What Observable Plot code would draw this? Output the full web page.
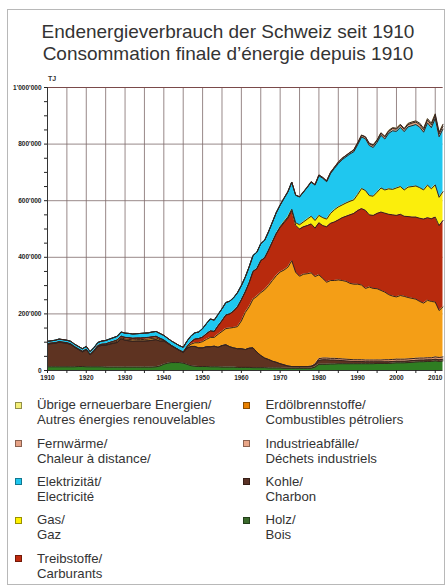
<!DOCTYPE html>
<html><head><meta charset="utf-8">
<script src="https://cdn.jsdelivr.net/npm/d3@7"></script>
<script src="https://cdn.jsdelivr.net/npm/@observablehq/plot@0.6"></script>
<style>
body{margin:0;background:#fff;font-family:"Liberation Sans",Arial,Helvetica,sans-serif;color:#333;}
#page{position:relative;width:446px;height:588px;overflow:hidden;}
#frame{position:absolute;left:7px;top:9px;width:438px;height:576px;border:1.5px solid #b8b8b8;box-sizing:border-box;}
.title{position:absolute;left:0;width:456px;text-align:center;font-size:19px;line-height:19px;color:#333;white-space:nowrap;}
#chart{position:absolute;left:0;top:0;}
.unit{position:absolute;left:48px;top:75px;font-size:7px;font-weight:bold;color:#333;}
.leg{position:absolute;font-size:13.2px;line-height:15px;color:#333;white-space:nowrap;}
.sw{position:absolute;width:7px;height:7px;box-sizing:border-box;border:0.6px solid rgba(0,0,0,.4);}
</style>
</head><body>
<div id="page">
  <div id="frame"></div>
  <div class="title" style="top:22.2px">Endenergieverbrauch der Schweiz seit 1910</div>
  <div class="title" style="top:44.2px">Consommation finale d’énergie depuis 1910</div>
  <div id="chart"></div>
  <div class="unit">TJ</div>
  <div id="legend"></div>
</div>
<script>
// Values in thousand TJ, one per year 1910–2012
const years = d3.range(1910, 2013);

const holz = [
 13,13,13,13,13,13,13,13,14,14,
 13,13,13,13,13,12,12,12,12,12,
 12,12,12,12,12,12,12,12,13,16,
 22,26,28,28,28,26,22,17,15,14,
 14,14,13,13,13,12,12,12,12,11,
 11,11,11,10,10,10,10,9,9,9,
 9,8,8,8,8,8,8,8,8,12,
 22,22,22,23,23,24,24,24,24,24,
 24,24,24,24,24,25,25,25,25,26,
 27,27,27,28,29,30,31,31,32,32,
 34,32,34];

const kohle = [
 80,82,83,87,85,83,79,69,60,52,
 60,42,55,72,76,77,81,84,87,100,
 95,93,91,92,92,92,93,95,96,88,
 82,70,59,51,43,38,57,68,70,66,
 66,70,71,73,69,76,79,72,68,66,
 66,63,68,70,55,43,34,30,24,20,
 15,12,8,6,6,6,6,6,7,8,
 14,16,16,14,14,12,11,10,9,8,
 8,8,7,7,7,6,6,6,6,6,
 6,6,6,6,6,6,6,6,6,6,
 6,6,6];

const industrieabfaelle = [
 0,0,0,0,0,0,0,0,0,0,
 0,0,0,0,0,0,0,0,0,0,
 0,0,0,0,0,0,0,0,0,0,
 0,0,0,0,0,0,0,0,0,0,
 0,0,0,0,0,0,0,0,0,0,
 0,0,0,0,0,0,0,0,0,0,
 0,0,0,0,0,0,0,0,0,3,
 6,6,6,6,6,6,6,6,6,6,
 6,6,6,6,6,6,6,7,7,7,
 7,7,7,7,7,7,7,7,7,7,
 8,8,8];

const erdoelbrennstoffe = [
 1,1,1,1,1,1,1,1,1,1,
 1,1,1,1,2,2,2,3,4,4,
 4,5,5,5,5,6,6,6,6,5,
 2,1,0.5,0.5,0.5,0.5,3,8,13,18,
 22,26,33,31,46,50,57,66,72,78,
 98,131,146,172,197,222,241,261,285,306,
 324,335,349,374,333,319,326,328,330,309,
 296,281,268,275,275,278,277,275,269,267,
 267,264,253,258,253,252,246,239,230,224,
 220,225,222,217,213,209,200,194,203,199,
 194,166,177];

const treibstoffe = [
 1,1,1,1,1,1,1,1,1,1,
 1,1,2,2,2,3,4,4,5,5,
 6,6,6,6,6,6,6,6,6,5,
 2,1,0.5,0.5,0.5,0.5,3,8,13,15,
 16,20,23,21,30,38,48,50,58,70,
 75,73,85,98,98,113,113,125,137,149,
 157,167,173,177,166,167,168,170,173,171,
 184,187,196,202,207,212,222,230,242,250,
 260,270,276,255,258,266,277,279,284,287,
 288,287,283,286,287,290,294,297,292,292,
 300,300,305];

const gas = [
 0,0,0,0,0,0,0,0,0,0,
 0,0,0,0,0,0,0,0,0,0,
 0,0,0,0,0,0,0,0,0,0,
 0,0,0,0,0,0,0,0,0,0,
 0,0,0,0,0,0,0,0,0,0,
 0,0,0,0,0,0,0,0,0,0,
 3,4,5,5,9,15,17,23,27,27,
 26,28,27,35,43,46,45,47,48,48,
 57,71,70,68,68,75,85,82,90,90,
 97,98,93,104,108,110,108,103,115,106,
 114,100,102];

const elektrizitaet = [
 8,8,9,9,9,9,9,9,9,9,
 10,10,10,11,11,12,12,13,13,15,
 15,15,15,15,16,16,16,17,17,17,
 16,16,16,16,16,17,19,21,22,23,
 30,36,42,40,40,42,44,45,47,50,
 50,52,56,56,58,60,62,65,69,74,
 76,82,88,95,97,98,105,112,120,125,
 140,139,132,141,146,153,160,163,167,170,
 176,182,183,177,172,176,186,180,196,207,
 200,209,206,213,215,217,214,204,220,216,
 235,214,221];

const fernwaerme = [
 0,0,0,0,0,0,0,0,0,0,
 0,0,0,0,0,0,0,0,0,0,
 0,0,0,0,0,0,0,0,0,0,
 0,0,0,0,0,0,0,0,0,0,
 0,0,0,0,0,0,0,0,0,0,
 0,0,0,0,0,0,0,0,0,0,
 1,1,1,1,1,1,1,1,2,2,
 3,3,3,4,4,5,5,5,5,6,
 6,6,6,6,7,7,7,7,7,8,
 8,8,8,8,9,9,9,9,10,10,
 10,10,10];

const uebrigeErneuerbare = [
 0,0,0,0,0,0,0,0,0,0,
 0,0,0,0,0,0,0,0,0,0,
 0,0,0,0,0,0,0,0,0,0,
 0,0,0,0,0,0,0,0,0,0,
 0,0,0,0,0,0,0,0,0,0,
 0,0,0,0,0,0,0,0,0,0,
 0,0,0,0,0,0,0,0,0,0,
 0,0,0,0,0,0,0,0,0,1,
 1,1,1,2,2,2,2,3,3,3,
 3,3,3,4,4,4,5,5,5,6,
 6,6,7];

// stacking order bottom -> top
const seriesNames = ["Holz","Kohle","Industrieabfälle","Erdölbrennstoffe","Treibstoffe","Gas","Elektrizität","Fernwärme","Übrige erneuerbare Energien"];
const seriesValues = [holz,kohle,industrieabfaelle,erdoelbrennstoffe,treibstoffe,gas,elektrizitaet,fernwaerme,uebrigeErneuerbare];
const areaColors = ["#2f7d22","#5e3321","#e39a70","#f49e16","#b82a0d","#fbee0c","#1fc7ef","#e0a27e","#efe49a"];

const yTicks = d3.range(0, 1000001, 50000);
const yLabelled = [0,200000,400000,600000,800000,1000000];
const xTicks = d3.range(1910, 2013, 5);
const xGrid = d3.range(1915, 2011, 5);

// legend entries (left column, right column)
const legendLeft = [
  ["Übrige erneuerbare Energien/","Autres énergies renouvelables","#f4ef78"],
  ["Fernwärme/","Chaleur à distance/","#e6a286"],
  ["Elektrizität/","Electricité","#1ec6ee"],
  ["Gas/","Gaz","#fff200"],
  ["Treibstoffe/","Carburants","#c02a0e"]
];
const legendRight = [
  ["Erdölbrennstoffe/","Combustibles pétroliers","#e88000"],
  ["Industrieabfälle/","Déchets industriels","#e9a688"],
  ["Kohle/","Charbon","#5a3226"],
  ["Holz/","Bois","#3b6a2c"]
];

const table = [];
years.forEach((yr, i) => seriesNames.forEach((n, j) => table.push({year: yr, series: n, value: seriesValues[j][i] * 1000})));

const fmt = v => d3.format(",")(v).replace(/,/g, "'");

const chart = Plot.plot({
  width: 446, height: 392,
  marginTop: 87, marginBottom: 22, marginLeft: 47, marginRight: 3.5,
  style: {background: "transparent", overflow: "visible", fontFamily: "Liberation Sans, Arial, sans-serif", color: "#222"},
  x: {domain: [1910, 2012]},
  y: {domain: [0, 1000000]},
  color: {domain: seriesNames, range: areaColors},
  marks: [
    Plot.ruleX(xGrid, {stroke: "#7e6a6a", strokeWidth: 0.8}),
    Plot.ruleY(yLabelled.slice(1), {stroke: "#7e6a6a", strokeWidth: 0.8}),
    Plot.areaY(table, Plot.stackY({x: "year", y: "value", z: "series", fill: "series", order: seriesNames})),
    Plot.lineY(table, Plot.stackY2({x: "year", y: "value", z: "series", order: seriesNames, stroke: "#35231d", strokeWidth: 1})),
    Plot.ruleY([1000000], {stroke: "#7a4a4a", strokeWidth: 1}),
    Plot.ruleX([1910], {stroke: "#333", strokeWidth: 1}),
    Plot.ruleY([0], {stroke: "#333", strokeWidth: 1}),
    Plot.axisX({ticks: xTicks, tickFormat: d => d % 10 === 0 ? String(d) : "", tickSize: 3, tickPadding: 2, fontSize: 6.5, fontWeight: "bold", label: null}),
    Plot.axisY({ticks: yTicks, tickFormat: d => yLabelled.includes(d) ? fmt(d) : "", tickSize: 3, tickPadding: 3, fontSize: 6.5, fontWeight: "bold", label: null})
  ]
});
document.getElementById("chart").appendChild(chart);

// HTML legend
const leg = document.getElementById("legend");
const tops = [397.2, 435.5, 473.9, 512.2, 550.5];
function addEntry(e, k, sx, tx) {
  const sw = document.createElement("div");
  sw.className = "sw";
  sw.style.left = sx + "px";
  sw.style.top = (tops[k] + 4.5) + "px";
  sw.style.background = e[2];
  leg.appendChild(sw);
  const t = document.createElement("div");
  t.className = "leg";
  t.style.left = tx + "px";
  t.style.top = tops[k] + "px";
  t.innerHTML = e[0] + "<br>" + e[1];
  leg.appendChild(t);
}
legendLeft.forEach((e, k) => addEntry(e, k, 15, 37));
legendRight.forEach((e, k) => addEntry(e, k, 243, 265.5));
</script>
</body></html>
